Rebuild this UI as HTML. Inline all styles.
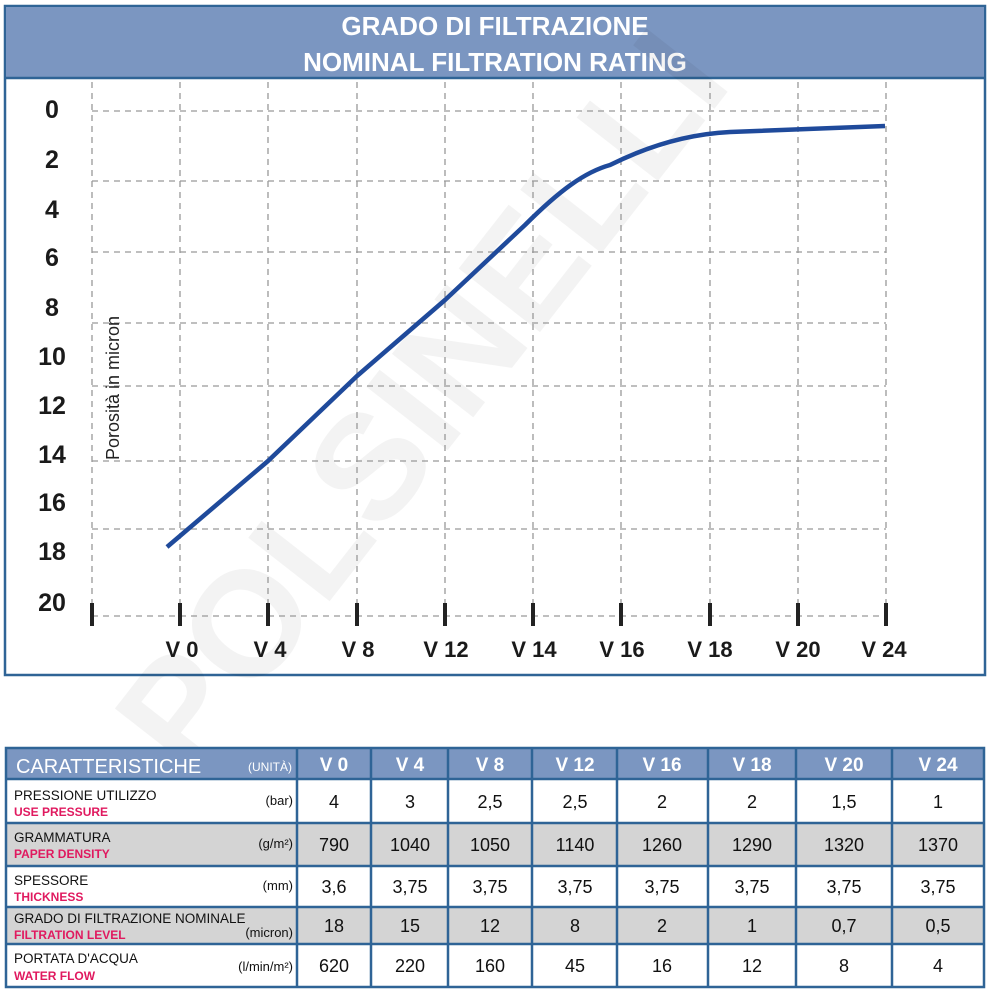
<!DOCTYPE html>
<html><head><meta charset="utf-8"><style>
html,body{margin:0;padding:0;background:#fff;}
svg{display:block;}
</style></head><body>
<svg width="990" height="990" viewBox="0 0 990 990" xmlns="http://www.w3.org/2000/svg" font-family="Liberation Sans, sans-serif">
<rect x="5" y="6" width="980" height="669" fill="#fff" stroke="#2f6496" stroke-width="2.5"/>
<rect x="6" y="7" width="978" height="71" fill="#7b96c1"/>
<line x1="5" y1="78" x2="985" y2="78" stroke="#2f6496" stroke-width="2.5"/>
<text x="495" y="35" text-anchor="middle" font-size="26" font-weight="bold" fill="#fff">GRADO DI FILTRAZIONE</text>
<text x="495" y="71" text-anchor="middle" font-size="26" font-weight="bold" fill="#fff">NOMINAL FILTRATION RATING</text>
<g opacity="0.045" fill="#000">
<text x="0" y="0" font-size="150" font-weight="bold" transform="translate(190,780) rotate(-52)">POLSINELLI</text>
</g>
<g stroke="#999" stroke-width="1.3" stroke-dasharray="6,5" fill="none">
<line x1="92" y1="111" x2="886" y2="111"/>
<line x1="92" y1="181" x2="886" y2="181"/>
<line x1="92" y1="252" x2="886" y2="252"/>
<line x1="92" y1="323" x2="886" y2="323"/>
<line x1="92" y1="386" x2="886" y2="386"/>
<line x1="92" y1="461" x2="886" y2="461"/>
<line x1="92" y1="529" x2="886" y2="529"/>
<line x1="92" y1="616" x2="886" y2="616"/>
<line x1="92" y1="82" x2="92" y2="616"/>
<line x1="180" y1="82" x2="180" y2="616"/>
<line x1="268" y1="82" x2="268" y2="616"/>
<line x1="357" y1="82" x2="357" y2="616"/>
<line x1="445" y1="82" x2="445" y2="616"/>
<line x1="533" y1="82" x2="533" y2="616"/>
<line x1="621" y1="82" x2="621" y2="616"/>
<line x1="710" y1="82" x2="710" y2="616"/>
<line x1="798" y1="82" x2="798" y2="616"/>
<line x1="886" y1="82" x2="886" y2="616"/>
</g>
<g stroke="#222" stroke-width="4">
<line x1="92" y1="603" x2="92" y2="626"/><line x1="180" y1="603" x2="180" y2="626"/><line x1="268" y1="603" x2="268" y2="626"/><line x1="357" y1="603" x2="357" y2="626"/><line x1="445" y1="603" x2="445" y2="626"/><line x1="533" y1="603" x2="533" y2="626"/><line x1="621" y1="603" x2="621" y2="626"/><line x1="710" y1="603" x2="710" y2="626"/><line x1="798" y1="603" x2="798" y2="626"/><line x1="886" y1="603" x2="886" y2="626"/>
</g>
<g font-size="25" font-weight="bold" fill="#1a1a1a" text-anchor="middle">
<text x="52" y="118">0</text><text x="52" y="168">2</text><text x="52" y="218">4</text><text x="52" y="266">6</text><text x="52" y="316">8</text><text x="52" y="365">10</text><text x="52" y="414">12</text><text x="52" y="463">14</text><text x="52" y="511">16</text><text x="52" y="560">18</text><text x="52" y="611">20</text>
</g>
<g font-size="22" font-weight="bold" fill="#1a1a1a" text-anchor="middle">
<text x="182" y="657">V 0</text><text x="270" y="657">V 4</text><text x="358" y="657">V 8</text><text x="446" y="657">V 12</text><text x="534" y="657">V 14</text><text x="622" y="657">V 16</text><text x="710" y="657">V 18</text><text x="798" y="657">V 20</text><text x="884" y="657">V 24</text>
</g>
<text transform="translate(119,460) rotate(-90)" font-size="18" fill="#222">Porosità  in micron</text>
<path d="M167,547 L268,461 L357,376 L445,300 L525,225 C560,190 585,172 610,165 C650,145 690,134 730,132 L885,126" fill="none" stroke="#1f4a9b" stroke-width="4.5" stroke-linejoin="round"/>
<rect x="6" y="748" width="978" height="31" fill="#7b96c1"/>
<g fill="#d4d4d4">
<rect x="6" y="823" width="978" height="43"/>
<rect x="6" y="907" width="978" height="37"/>
</g>
<g stroke="#2f6496" stroke-width="2.5" fill="none">
<rect x="6" y="748" width="978" height="239"/>
<line x1="6" y1="779" x2="984" y2="779"/><line x1="6" y1="823" x2="984" y2="823"/><line x1="6" y1="866" x2="984" y2="866"/><line x1="6" y1="907" x2="984" y2="907"/><line x1="6" y1="944" x2="984" y2="944"/>
<line x1="297" y1="748" x2="297" y2="987"/><line x1="371" y1="748" x2="371" y2="987"/><line x1="448" y1="748" x2="448" y2="987"/><line x1="532" y1="748" x2="532" y2="987"/><line x1="617" y1="748" x2="617" y2="987"/><line x1="708" y1="748" x2="708" y2="987"/><line x1="796" y1="748" x2="796" y2="987"/><line x1="892" y1="748" x2="892" y2="987"/>
</g>
<text x="16" y="773" font-size="20" fill="#fff">CARATTERISTICHE</text>
<text x="292" y="771" font-size="12" fill="#fff" text-anchor="end">(UNITÀ)</text>
<g font-size="19" font-weight="bold" fill="#fff" text-anchor="middle">
<text x="334" y="771">V 0</text><text x="410" y="771">V 4</text><text x="490" y="771">V 8</text><text x="575" y="771">V 12</text><text x="662" y="771">V 16</text><text x="752" y="771">V 18</text><text x="844" y="771">V 20</text><text x="938" y="771">V 24</text>
</g>
<g font-size="13.5" fill="#111">
<text x="14" y="800">PRESSIONE UTILIZZO</text>
<text x="14" y="842">GRAMMATURA</text>
<text x="14" y="885">SPESSORE</text>
<text x="14" y="923">GRADO DI FILTRAZIONE NOMINALE</text>
<text x="14" y="963">PORTATA D'ACQUA</text>
</g>
<g font-size="12" font-weight="bold" fill="#e0195f">
<text x="14" y="816">USE PRESSURE</text>
<text x="14" y="858">PAPER DENSITY</text>
<text x="14" y="901">THICKNESS</text>
<text x="14" y="939">FILTRATION LEVEL</text>
<text x="14" y="980">WATER FLOW</text>
</g>
<g font-size="13" fill="#111" text-anchor="end">
<text x="293" y="805">(bar)</text><text x="293" y="848">(g/m²)</text><text x="293" y="890">(mm)</text><text x="293" y="937">(micron)</text><text x="293" y="971">(l/min/m²)</text>
</g>
<g font-size="18" fill="#111" text-anchor="middle">
<text x="334" y="808">4</text><text x="410" y="808">3</text><text x="490" y="808">2,5</text><text x="575" y="808">2,5</text><text x="662" y="808">2</text><text x="752" y="808">2</text><text x="844" y="808">1,5</text><text x="938" y="808">1</text>
<text x="334" y="851">790</text><text x="410" y="851">1040</text><text x="490" y="851">1050</text><text x="575" y="851">1140</text><text x="662" y="851">1260</text><text x="752" y="851">1290</text><text x="844" y="851">1320</text><text x="938" y="851">1370</text>
<text x="334" y="893">3,6</text><text x="410" y="893">3,75</text><text x="490" y="893">3,75</text><text x="575" y="893">3,75</text><text x="662" y="893">3,75</text><text x="752" y="893">3,75</text><text x="844" y="893">3,75</text><text x="938" y="893">3,75</text>
<text x="334" y="932">18</text><text x="410" y="932">15</text><text x="490" y="932">12</text><text x="575" y="932">8</text><text x="662" y="932">2</text><text x="752" y="932">1</text><text x="844" y="932">0,7</text><text x="938" y="932">0,5</text>
<text x="334" y="972">620</text><text x="410" y="972">220</text><text x="490" y="972">160</text><text x="575" y="972">45</text><text x="662" y="972">16</text><text x="752" y="972">12</text><text x="844" y="972">8</text><text x="938" y="972">4</text>
</g>
</svg>
</body></html>
